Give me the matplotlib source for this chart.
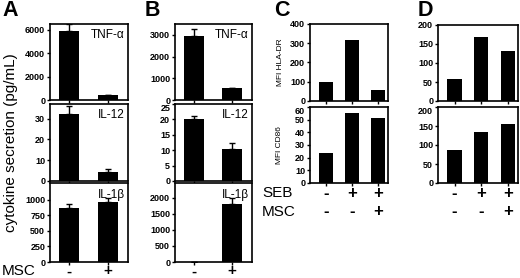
import matplotlib
matplotlib.use("Agg")
import matplotlib.pyplot as plt

plt.rcParams["font.family"] = ["Liberation Sans", "DejaVu Sans"]
plt.rcParams["font.weight"] = "bold"

W, H = 520, 278

# panel A / B data (MSC -, +)
msc = ["-", "+"]
a_tnf = [5900, 450]
a_tnf_err = [600, 0]
a_il12 = [32, 4.5]
a_il12_err = [4, 1.5]
a_il1b = [870, 960]
a_il1b_err = [60, 75]

b_tnf = [2950, 540]
b_tnf_err = [300, 0]
b_il12 = [20, 10.3]
b_il12_err = [1, 2]
b_il1b = [0, 1790]
b_il1b_err = [0, 210]

# panel C / D data (SEB, MSC)
seb = ["-", "+", "+"]
msc3 = ["-", "-", "+"]
c_hla = [100, 315, 55]
c_cd86 = [24, 55, 51]
d_top = [58, 168, 132]
d_bot = [88, 135, 155]

fig = plt.figure(figsize=(W / 100, H / 100), dpi=100)


def box(x0, x1, y0, y1):
    return fig.add_axes([x0 / W, 1 - y1 / H, (x1 - x0) / W, (y1 - y0) / H])


def style(ax, ymax, yticks, xlim, lower=True):
    ax.set_ylim(0, ymax)
    ax.set_yticks(yticks)
    ax.set_xlim(*xlim)
    ax.tick_params(axis="y", labelsize=6.5, length=2.5, width=1, pad=1)
    ax.tick_params(axis="x", length=2.5, width=1, labelbottom=False)
    for s in ax.spines.values():
        s.set_linewidth(1.2)
    # top label of a lower panel sits just under the panel edge
    if lower and yticks[-1] >= ymax:
        ax.get_yticklabels()[-1].set_va("top")


def bars(ax, vals, errs=None, width=0.52):
    x = list(range(len(vals)))
    ax.bar(x, vals, width=width, color="black")
    if errs is not None:
        ax.errorbar(x, vals, yerr=[[0] * len(errs), errs], fmt="none",
                    ecolor="black", elinewidth=1, capsize=2, capthick=1)
    ax.set_xticks(x)


rows2 = [(24, 100), (104, 181), (183, 262)]
xl2 = (-0.5, 1.53)

# panel A
axA = [box(50, 128, *r) for r in rows2]
bars(axA[0], a_tnf, a_tnf_err)
style(axA[0], 6500, [0, 2000, 4000, 6000], xl2)
bars(axA[1], a_il12, a_il12_err)
style(axA[1], 37, [0, 10, 20, 30], xl2)
bars(axA[2], a_il1b, a_il1b_err)
style(axA[2], 1270, [0, 250, 500, 750, 1000], xl2)

# panel B
axB = [box(175, 252, *r) for r in rows2]
bars(axB[0], b_tnf, b_tnf_err)
style(axB[0], 3500, [0, 1000, 2000, 3000], xl2)
bars(axB[1], b_il12, b_il12_err)
style(axB[1], 25, [0, 5, 10, 15, 20, 25], xl2)
bars(axB[2], b_il1b, b_il1b_err)
style(axB[2], 2450, [0, 500, 1000, 1500, 2000], xl2)

for axs in (axA, axB):
    for ax, name in zip(axs, ["TNF-α", "IL-12", "IL-1β"]):
        ax.text(0.96, 0.93, name, transform=ax.transAxes, ha="right",
                va="top", fontsize=8.5, fontweight="normal")
    for i, s in enumerate(msc):
        axs[2].text(i, -0.12, s, transform=axs[2].get_xaxis_transform(),
                    ha="center", va="center", fontsize=11)

axA[1].set_ylabel("cytokine secretion (pg/mL)", fontsize=11,
                  fontweight="normal", labelpad=12)
fig.text(2 / W, 1 - 271 / H, "MSC", fontsize=11, fontweight="normal",
         va="center")

# panels C and D
xl3 = (-0.62, 2.38)
axC = [box(310, 388, 24, 101), box(310, 388, 107, 183)]
bars(axC[0], c_hla, width=0.54)
style(axC[0], 400, [0, 100, 200, 300, 400], xl3, lower=False)
bars(axC[1], c_cd86, width=0.54)
style(axC[1], 60, [0, 10, 20, 30, 40, 50, 60], xl3)
axC[0].set_ylabel("MFI HLA-DR", fontsize=6, fontweight="normal", labelpad=4)
axC[1].set_ylabel("MFI CD86", fontsize=6, fontweight="normal", labelpad=9)

axD = [box(438, 518, 25, 101), box(438, 518, 107, 183)]
bars(axD[0], d_top, width=0.54)
style(axD[0], 200, [0, 50, 100, 150, 200], xl3, lower=False)
bars(axD[1], d_bot, width=0.54)
style(axD[1], 200, [0, 50, 100, 150, 200], xl3)

for ax in (axC[1], axD[1]):
    for i in range(3):
        ax.text(i, -0.14, seb[i], transform=ax.get_xaxis_transform(),
                ha="center", va="center", fontsize=12)
        ax.text(i, -0.38, msc3[i], transform=ax.get_xaxis_transform(),
                ha="center", va="center", fontsize=12)
fig.text(262 / W, 1 - 193 / H, "SEB", fontsize=11, fontweight="normal",
         va="center")
fig.text(262 / W, 1 - 212 / H, "MSC", fontsize=11, fontweight="normal",
         va="center")

# panel letters
for lx, ly, s in [(2, 11, "A"), (145, 11, "B"), (274, 11, "C"), (418, 11, "D")]:
    fig.text(lx / W, 1 - ly / H, s, fontsize=15.5, fontweight="bold",
             va="center")

fig.savefig("out.png", dpi=100)
